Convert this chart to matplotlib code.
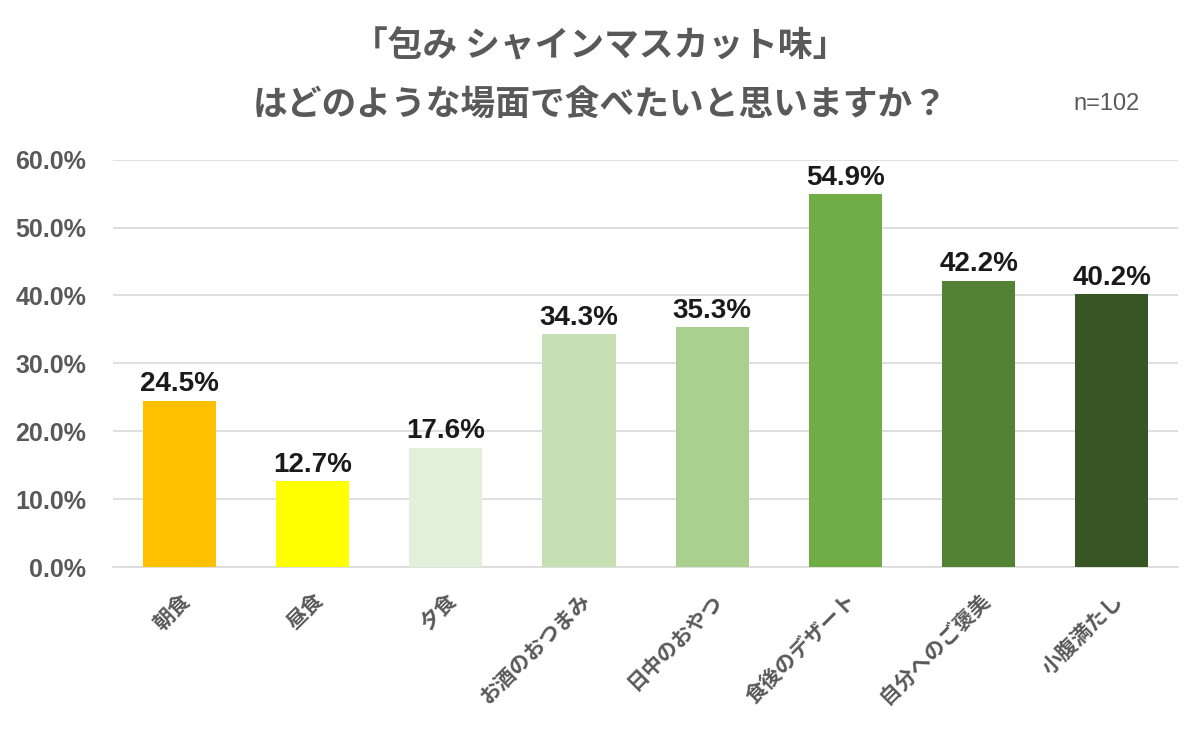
import matplotlib.pyplot as plt
import numpy as np

plt.rcParams['font.family'] = ['Noto Sans CJK JP', 'DejaVu Sans']

# ============================
# Data
# ============================

categories = ["朝食", "昼食", "夕食", "お酒のおつまみ", "日中のおやつ",
              "食後のデザート", "自分へのご褒美", "小腹満たし"]
values = [24.5, 12.7, 17.6, 34.3, 35.3, 54.9, 42.2, 40.2]
colors = ["#FFC000", "#FFFF00", "#E2EFDA", "#C6E0B4", "#A9D08E",
          "#70AD47", "#548235", "#375623"]
yticks = [0, 10, 20, 30, 40, 50, 60]

num_font = ['Liberation Sans', 'DejaVu Sans']

# ============================
# Plot
# ============================

fig = plt.figure(figsize=(12, 7.32), dpi=100)
ax = fig.add_axes([0.094, 0.225, 0.888, 0.557])

x = np.arange(len(categories))
ax.bar(x, values, width=0.55, color=colors, zorder=3)

for xi, v in zip(x, values):
    ax.text(xi, v + 0.5, f"{v:.1f}%", ha="center", va="bottom",
            fontsize=20, fontweight="bold", color="#1A1A1A", family=num_font)

ax.set_xlim(-0.5, len(categories) - 0.5)
ax.set_ylim(0, 60)
ax.set_yticks(yticks)
ax.set_yticklabels([f"{t:.1f}%" for t in yticks], fontsize=18,
                   fontweight="bold", color="#595959", family=num_font)
ax.yaxis.grid(True, color="#D9D9D9", linewidth=1.2, zorder=0)
ax.tick_params(axis="y", length=0, pad=19)
ax.tick_params(axis="x", length=0, pad=16)

ax.set_xticks(x)
ax.set_xticklabels(categories, rotation=45, ha="right", rotation_mode="anchor",
                   fontsize=15, fontweight="bold", color="#595959")

for s in ["top", "right", "left"]:
    ax.spines[s].set_visible(False)
ax.spines["bottom"].set_color("#D9D9D9")
ax.spines["bottom"].set_linewidth(1.2)

fig.text(0.5, 0.937, "「包み シャインマスカット味」", ha="center", va="center",
         fontsize=25, fontweight="bold", color="#595959")
fig.text(0.5, 0.858, "はどのような場面で食べたいと思いますか？", ha="center", va="center",
         fontsize=25, fontweight="bold", color="#595959")
fig.text(0.922, 0.858, "n=102", ha="center", va="center",
         fontsize=17, color="#595959",
         family=['Liberation Sans Narrow', 'Liberation Sans', 'DejaVu Sans'])

fig.savefig("out.png", dpi=100, facecolor="white")
